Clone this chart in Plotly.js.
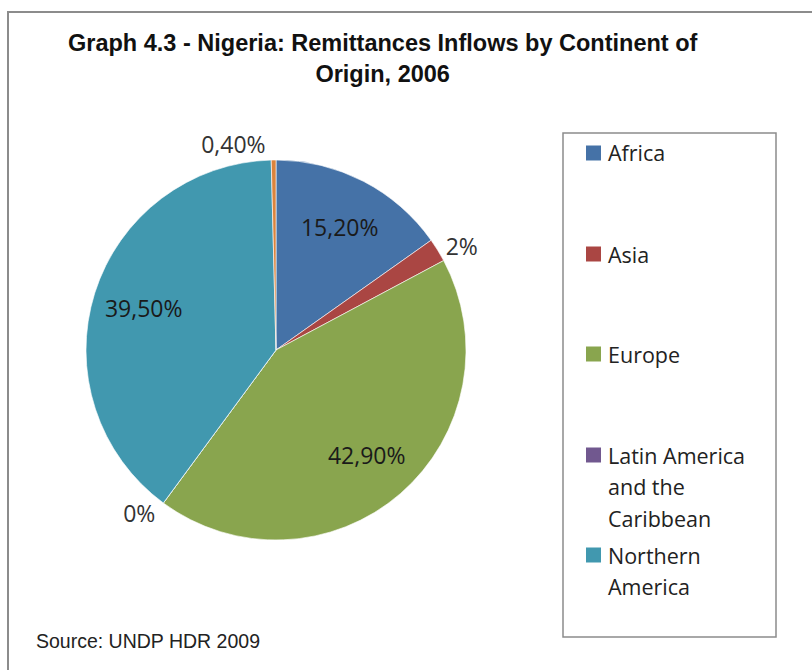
<!DOCTYPE html>
<html>
<head>
<meta charset="utf-8">
<script src="https://cdn.plot.ly/plotly-3.0.1.min.js"></script>
<style>html,body{margin:0;padding:0;background:#fff;}#chart{width:812px;height:670px;}</style>
</head>
<body>
<div id="chart"></div>
<script>
const categories = ['Africa', 'Asia', 'Europe', 'Latin America and the Caribbean', 'Northern America', 'Oceania'];
const values = [15.2, 2, 42.9, 0, 39.5, 0.4];
const valueLabels = ['15,20%', '2%', '42,90%', '0%', '39,50%', '0,40%'];
const legendLabels = [['Africa'], ['Asia'], ['Europe'], ['Latin America', 'and the', 'Caribbean'], ['Northern', 'America']];
const colors = ['#4572A7', '#AA4643', '#89A54E', '#71588F', '#4198AF', '#DB843D'];
const titleText = 'Graph 4.3 - Nigeria: Remittances Inflows by Continent of<br>Origin, 2006';
const sourceText = 'Source: UNDP HDR 2009';

const W = 812, H = 670;
const px = x => x / W;
const py = y => 1 - y / H;

const isBig = values.map(v => v >= 5);
const pieDomain = {x: [px(86), px(466)], y: [py(540), py(160)]};
const labelFont = {family: '"Open Sans", sans-serif', size: 23, color: '#1a1a1a'};

// Coloured pie: carries the outside labels of the small slices
const pieTrace = {
  type: 'pie',
  labels: categories,
  values: values,
  text: valueLabels.map((t, i) => isBig[i] ? '' : t),
  textinfo: 'text',
  textposition: isBig.map(b => b ? 'none' : 'outside'),
  sort: false,
  direction: 'clockwise',
  rotation: 0,
  showlegend: false,
  marker: {colors: colors, line: {color: 'rgba(255,255,255,0.6)', width: 1}},
  outsidetextfont: {family: '"Open Sans", sans-serif', size: 23, color: '#333'},
  domain: pieDomain,
  hoverinfo: 'skip'
};

// Transparent ring over it: carries the inside labels further out from the centre
const labelTrace = {
  type: 'pie',
  labels: categories,
  values: values,
  text: valueLabels,
  textinfo: 'text',
  textposition: isBig.map(b => b ? 'inside' : 'none'),
  insidetextorientation: 'horizontal',
  insidetextfont: labelFont,
  hole: 0.46,
  sort: false,
  direction: 'clockwise',
  rotation: 0,
  showlegend: false,
  marker: {colors: values.map(() => 'rgba(0,0,0,0)'), line: {width: 0}},
  domain: pieDomain,
  hoverinfo: 'skip'
};

const shapes = [
  {type: 'rect', xref: 'paper', yref: 'paper', x0: px(8), x1: px(830), y0: py(12), y1: py(690),
   line: {color: '#8c8c8c', width: 2}, fillcolor: 'rgba(0,0,0,0)'},
  {type: 'rect', xref: 'paper', yref: 'paper', x0: px(563), x1: px(776), y0: py(133), y1: py(637),
   line: {color: '#8c8c8c', width: 1.5}, fillcolor: 'rgba(0,0,0,0)'}
];
const annotations = [
  {text: '<b>' + titleText + '</b>', xref: 'paper', yref: 'paper', x: px(383), y: py(59), xanchor: 'center', yanchor: 'middle',
   showarrow: false, align: 'center', font: {family: '"Liberation Sans", Arial', size: 23.5, color: '#111'}},
  {text: sourceText, xref: 'paper', yref: 'paper', x: px(34), y: py(641), xanchor: 'left', yanchor: 'middle',
   showarrow: false, font: {family: '"Liberation Sans", Arial', size: 19.5, color: '#222'}}
];

const entryY = [153, 254, 354, 455, 555];
const lineGap = 31.5;
legendLabels.forEach((lines, i) => {
  shapes.push({type: 'rect', xref: 'paper', yref: 'paper', x0: px(586), x1: px(601), y0: py(entryY[i] + 7.5), y1: py(entryY[i] - 7.5),
    fillcolor: colors[i], line: {width: 0}});
  lines.forEach((ln, j) => {
    annotations.push({text: ln, xref: 'paper', yref: 'paper', x: px(606), y: py(entryY[i] + j * lineGap), xanchor: 'left', yanchor: 'middle',
      showarrow: false, align: 'left', font: {family: '"Open Sans", sans-serif', size: 21.5, color: '#222'}});
  });
});

const layout = {
  width: W, height: H,
  margin: {l: 0, r: 0, t: 0, b: 0},
  paper_bgcolor: '#fff',
  showlegend: false,
  shapes: shapes,
  annotations: annotations
};

Plotly.newPlot('chart', [pieTrace, labelTrace], layout, {displayModeBar: false, staticPlot: true});
</script>
</body>
</html>
